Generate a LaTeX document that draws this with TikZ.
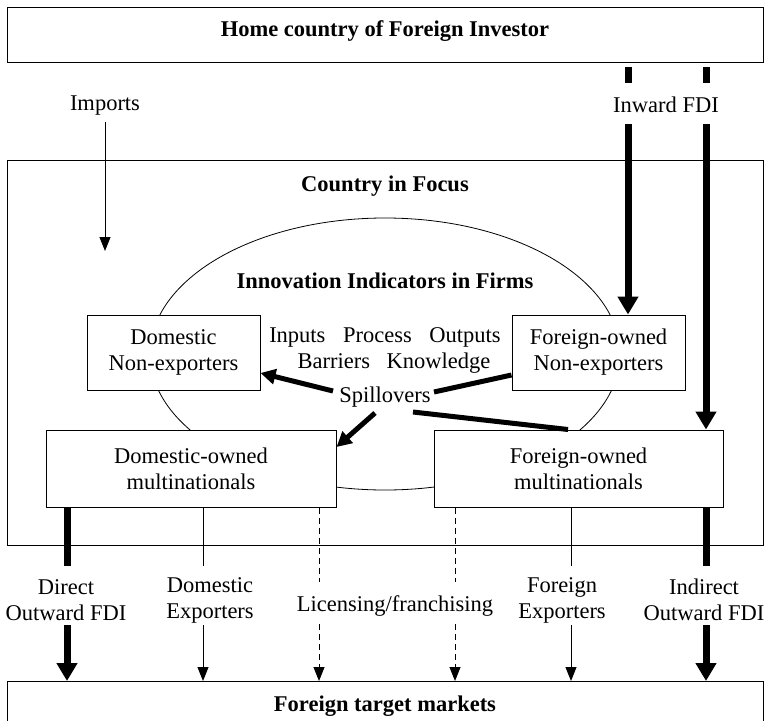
\documentclass[tikz,border=0pt]{standalone}
\usepackage{fontspec}
\setmainfont{Liberation Serif}
\usetikzlibrary{arrows.meta,shapes.geometric}
\begin{document}
\begin{tikzpicture}[x=1pt,y=-1pt,
  font=\fontsize{22.5}{26}\selectfont,
  box/.style={draw,line width=1pt,inner sep=0pt,align=center,fill=white},
  lbl/.style={inner sep=0pt,align=center},
  ttl/.style={inner sep=0pt,font=\fontsize{22.5}{26}\selectfont\bfseries},
  thickarr/.style={line width=7pt,-{Triangle[width=20pt,length=18pt]}},
  thickln/.style={line width=7pt},
  thinarr/.style={line width=1pt,-{Triangle[width=11pt,length=14pt]}},
  thinln/.style={line width=1pt},
  dashln/.style={line width=1pt,dash pattern=on 6pt off 4pt},
  dasharr/.style={line width=1pt,dash pattern=on 6pt off 4pt,-{Triangle[width=11pt,length=14pt]}},
  spill/.style={line width=5pt},
  spillarr/.style={line width=5pt,-{Triangle[width=15pt,length=15pt]}},
]
\useasboundingbox (0,0) rectangle (764,721);
\fill[white] (0,0) rectangle (764,721);

% top box
\node[box,minimum width=756pt,minimum height=55pt] (home) at (385,34.5) {};
\node[ttl] (hometxt) at (385,31) {Home country of Foreign Investor};

% country in focus
\node[box,minimum width=756pt,minimum height=385pt] (cif) at (385,352.5) {};
\node[ttl] (ciftxt) at (385,186) {Country in Focus};

% ellipse
\node[draw,ellipse,line width=0.8pt,inner sep=0pt,minimum width=470pt,minimum height=272pt] (ell) at (385,354) {};
\node[ttl] (iif) at (385,281) {Innovation Indicators in Firms};

% inner boxes
\node[box,minimum width=173pt,minimum height=75pt] (dne) at (173.5,352.5) {Domestic\\Non-exporters};
\node[box,minimum width=173pt,minimum height=75pt] (fne) at (598.5,352.5) {Foreign-owned\\Non-exporters};
\node[box,minimum width=290pt,minimum height=77pt] (dmn) at (191,468.5) {Domestic-owned\\multinationals};
\node[box,minimum width=289pt,minimum height=77pt] (fmn) at (578.5,468.5) {Foreign-owned\\multinationals};

% indicators text
\node[lbl] (ind1) at (385,337) {Inputs\hspace{12pt} Process\hspace{12pt} Outputs};
\node[lbl] (ind2) at (394,363) {Barriers\hspace{11pt} Knowledge};
\node[lbl] (spl) at (385,397) {Spillovers};

% spillover connectors
\coordinate (s1) at (333,391);
\coordinate (s2) at (434,392);
\coordinate (s3) at (375,413);
\coordinate (s4) at (413,412);
\draw[spillarr] (s1) -- (dne.east |- 0,373);
\draw[spill] (fne.west |- 0,375) -- (s2);
\draw[spillarr] (s3) -- (dmn.east |- 0,447);
\draw[spill] (s4) -- (fmn.north -| 568,0);

% imports
\node[lbl] (imp) at (105,106) {Imports};
\coordinate (impend) at (105,251);
\draw[thinarr] (105,122) -- (impend);

% inward FDI
\node[lbl] (ifdi) at (666,105) {Inward FDI};
\coordinate (i1a) at (628,67);
\coordinate (i1b) at (628,83);
\coordinate (i1c) at (628,124);
\coordinate (i2a) at (706,67);
\coordinate (i2b) at (706,83);
\coordinate (i2c) at (706,124);
\draw[thickln] (i1a) -- (i1b);
\draw[thickln] (i2a) -- (i2b);
\draw[thickarr] (i1c) -- (fne.north -| i1c);
\draw[thickarr] (i2c) -- (fmn.north -| i2c);

% bottom box
\node[box,minimum width=756pt,minimum height=50pt,anchor=north] (tm) at (385,681) {};
\node[ttl] (tmtxt) at (385,706) {Foreign target markets};

% bottom labels
\node[lbl] (dofdi) at (66,600) {Direct\\Outward FDI};
\node[lbl] (dex) at (210,600) {Domestic\\Exporters};
\node[lbl] (lic) at (395,606) {Licensing/franchising};
\node[lbl] (fex) at (562,600) {Foreign\\Exporters};
\node[lbl] (iofdi) at (704,600) {Indirect\\Outward FDI};

% bottom connectors
\coordinate (b1a) at (67,566);  \coordinate (b1b) at (67,625);
\coordinate (b2a) at (203,566); \coordinate (b2b) at (203,625);
\coordinate (b3a) at (319,582); \coordinate (b3b) at (319,624);
\coordinate (b4a) at (455,582); \coordinate (b4b) at (455,624);
\coordinate (b5a) at (571,566); \coordinate (b5b) at (571,625);
\coordinate (b6a) at (706,566); \coordinate (b6b) at (706,625);

\draw[thickln] (dmn.south -| b1a) -- (b1a);
\draw[thickarr] (b1b) -- (tm.north -| b1b);
\draw[thinln] (dmn.south -| b2a) -- (b2a);
\draw[thinarr] (b2b) -- (tm.north -| b2b);
\draw[dashln] (dmn.south -| b3a) -- (b3a);
\draw[dasharr] (b3b) -- (tm.north -| b3b);
\draw[dashln] (fmn.south -| b4a) -- (b4a);
\draw[dasharr] (b4b) -- (tm.north -| b4b);
\draw[thinln] (fmn.south -| b5a) -- (b5a);
\draw[thinarr] (b5b) -- (tm.north -| b5b);
\draw[thickln] (fmn.south -| b6a) -- (b6a);
\draw[thickarr] (b6b) -- (tm.north -| b6b);
\end{tikzpicture}
\end{document}
